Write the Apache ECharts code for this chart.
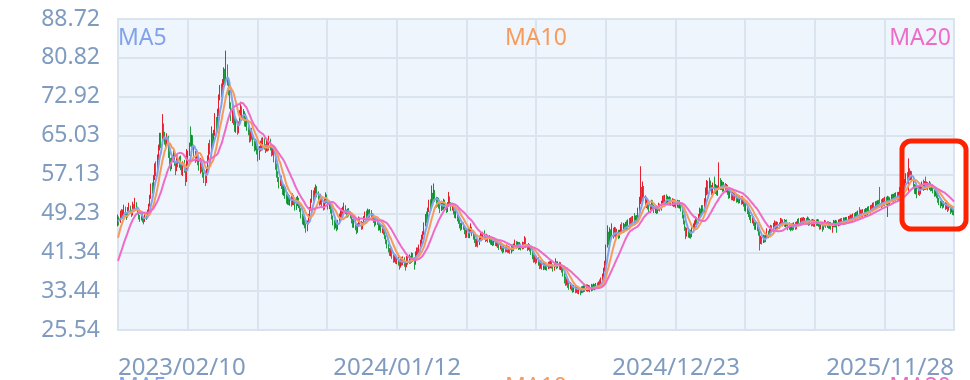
<!DOCTYPE html>
<html><head><meta charset="utf-8">
<style>html,body{margin:0;padding:0;background:#fff}#c{width:970px;height:380px}</style>
<script src="https://cdn.jsdelivr.net/npm/echarts@6.0.0/dist/echarts.min.js"></script>
</head><body><div id="c"></div>
<script>
// ---------- data ----------
const firstDate = '2023-02-10';
const lastDate = '2025-11-28';
const marketHolidays = [
 '2023-04-05','2023-05-01','2023-05-02','2023-05-03','2023-06-22','2023-06-23','2023-09-29','2023-10-02','2023-10-03','2023-10-04','2023-10-05','2023-10-06',
 '2024-01-01','2024-02-09','2024-02-12','2024-02-13','2024-02-14','2024-02-15','2024-02-16','2024-04-04','2024-04-05','2024-05-01','2024-05-02','2024-05-03','2024-06-10','2024-09-16','2024-09-17','2024-10-01','2024-10-02','2024-10-03','2024-10-04','2024-10-07',
 '2025-01-01','2025-01-28','2025-01-29','2025-01-30','2025-01-31','2025-02-03','2025-02-04','2025-04-04','2025-05-01','2025-05-02','2025-05-05','2025-06-02','2025-10-01','2025-10-02','2025-10-03','2025-10-06','2025-10-07','2025-10-08'
];
const labelDates = ['2023/02/10','2024/01/12','2024/12/23','2025/11/28'];
const yTickValues = [25.54,33.44,41.34,49.23,57.13,65.03,72.92,80.82,88.72];
const seriesNames = ['MA5','MA10','MA20'];
const maWindows = [5,10,20];
// closes of the 19 sessions before the first shown day (needed for the moving averages)
const warmupCloses = [33.2,33.8,34.5,33.9,34.6,35.1,35.8,35.2,36.4,36.5,37.8,39.5,41.2,42.6,43.9,46.2,47.8,48.5,47.5];
// [open, close, low, high]
const dailyCandles = [
[47.2,48.0,46.6,49.0],[48.0,47.4,46.8,48.6],[47.5,49.2,47.3,49.8],[49.2,48.6,48.1,50.1],[48.5,49.6,48.2,50.0],[49.6,50.3,49.0,51.0],[50.3,49.2,48.8,50.6],[49.0,48.5,47.9,49.5],[48.6,49.8,48.4,50.5],[49.8,50.6,49.5,51.4],
[50.5,49.7,49.2,50.8],[49.6,48.9,48.5,49.9],[49.0,50.8,48.8,51.6],[50.7,49.9,49.5,51.1],[49.8,51.2,49.6,52.4],[51.2,50.4,49.9,51.5],[50.3,49.5,49.0,50.6],[49.4,48.6,48.0,49.6],[48.7,48.0,47.5,48.9],[48.1,49.0,47.8,49.4],
[49.0,48.2,47.4,49.3],[48.1,47.6,47.0,48.4],[47.7,48.8,47.5,49.2],[48.9,48.3,47.9,49.5],[48.4,49.5,48.2,50.0],[49.6,50.8,49.3,51.2],[50.9,52.4,50.6,53.0],[52.5,54.6,52.2,55.3],[54.7,53.8,53.2,55.5],[53.7,56.2,53.5,57.0],
[56.3,58.5,56.0,59.4],[58.6,57.4,56.8,59.8],[58.2,60.5,57.9,61.2],[60.6,62.4,60.0,63.2],[62.5,64.8,62.0,65.6],[64.9,63.1,62.5,65.6],[63.2,66.5,63.0,69.4],[66.6,65.2,64.5,67.5],[65.0,64.0,63.2,65.8],[64.1,63.0,62.4,64.6],
[63.1,64.8,62.8,65.5],[64.7,61.2,60.5,65.0],[61.3,59.8,59.0,62.0],[59.9,58.6,57.8,60.5],[58.7,59.9,58.2,60.6],[60.0,61.5,59.6,62.3],[61.6,59.4,58.9,62.0],[59.3,58.2,57.0,59.8],[58.3,60.3,57.8,60.9],[60.4,59.1,58.6,61.0],
[59.0,60.2,58.5,60.8],[60.3,58.8,58.0,61.0],[58.7,57.6,57.0,59.4],[57.5,59.3,56.8,59.8],[59.4,58.0,57.5,60.1],[57.9,55.9,54.8,58.4],[56.0,58.9,55.6,62.3],[59.0,61.2,58.7,62.0],[61.3,62.8,60.9,63.6],[65.8,63.2,62.8,66.9],
[63.1,64.5,62.6,65.2],[64.6,62.9,62.2,65.1],[62.8,61.0,60.4,63.2],[61.1,60.0,59.5,61.9],[60.1,61.4,59.8,62.0],[61.3,59.6,59.0,61.8],[59.7,58.5,57.9,60.2],[58.6,59.8,57.3,60.5],[59.7,58.3,57.6,60.1],[58.4,57.1,56.5,58.9],
[57.0,56.2,55.4,57.6],[57.6,55.6,54.8,57.9],[55.7,57.8,55.4,58.4],[57.9,60.4,57.6,61.0],[60.5,62.9,60.1,63.5],[63.0,61.8,61.2,64.2],[61.9,64.8,61.5,66.9],[64.9,63.2,62.6,65.5],[63.3,65.4,62.9,66.2],[65.5,67.8,65.0,69.6],
[67.9,66.0,65.2,68.8],[66.1,69.2,65.8,70.5],[69.3,72.6,69.0,73.4],[72.7,74.5,72.2,75.3],[74.6,73.4,72.8,75.6],[73.3,75.8,73.0,76.5],[75.9,77.8,75.2,78.9],[77.9,76.2,75.5,78.6],[76.1,78.6,75.8,82.3],[78.7,75.8,75.2,79.5],
[75.7,74.1,73.2,76.2],[74.0,71.2,70.5,74.3],[71.3,68.8,68.0,71.8],[68.9,70.2,67.6,71.0],[70.1,68.0,67.2,70.6],[68.1,66.5,65.8,68.9],[66.4,67.8,65.6,68.3],[67.7,65.9,65.2,68.1],[66.0,67.2,65.5,67.9],[67.3,69.5,67.0,70.2],
[69.6,70.8,69.1,71.9],[70.7,68.6,68.0,71.0],[68.5,69.8,68.1,70.4],[69.7,67.4,66.9,70.0],[67.5,68.3,66.8,69.5],[68.2,66.9,66.0,68.7],[66.8,65.7,65.1,67.2],[65.8,64.3,63.6,66.3],[64.2,65.9,63.8,66.4],[66.0,64.8,64.2,66.6],
[64.9,63.5,62.9,65.3],[63.4,62.5,61.8,64.0],[62.6,63.8,62.0,64.4],[63.7,61.9,61.2,64.1],[62.0,60.6,59.8,62.4],[60.5,62.2,60.1,62.9],[62.3,63.4,61.8,64.0],[63.5,62.7,62.0,64.6],[62.6,63.9,62.3,64.7],[64.0,62.8,62.2,64.5],
[62.7,62.0,61.5,63.3],[62.1,63.5,61.8,64.2],[63.4,62.4,61.8,63.9],[62.5,63.8,62.0,65.0],[63.9,62.6,62.0,64.4],[62.5,61.5,60.8,63.0],[61.6,62.3,61.0,62.9],[62.2,60.4,59.6,62.5],[60.3,59.0,58.1,60.7],[59.1,57.2,56.5,59.4],
[57.3,56.1,55.6,57.8],[56.0,55.2,54.3,56.6],[55.3,56.5,54.8,57.0],[56.4,54.8,54.2,56.9],[54.9,53.6,53.0,55.4],[53.5,54.3,52.8,55.1],[54.4,52.9,52.2,54.8],[53.0,51.8,51.2,53.4],[51.7,52.8,51.0,53.5],[52.9,51.5,50.9,53.2],
[51.4,52.3,50.8,52.9],[52.4,51.2,50.6,52.8],[51.1,52.5,50.9,53.3],[52.6,51.6,50.9,53.0],[51.5,50.4,49.8,51.9],[51.3,51.0,49.9,52.6],[51.1,52.2,50.7,52.8],[52.1,50.9,50.3,52.4],[50.8,50.1,49.5,51.2],[50.0,48.8,48.2,50.3],
[48.9,47.6,47.0,49.2],[47.5,48.2,46.8,48.7],[48.3,46.9,46.2,48.6],[46.8,45.8,45.3,47.2],[45.9,47.2,45.6,47.8],[47.3,48.5,47.0,49.1],[48.6,50.0,48.3,50.5],[50.1,51.6,49.8,52.2],[51.7,53.1,51.4,54.0],[53.2,52.3,51.8,53.9],
[52.2,53.6,51.9,54.5],[53.7,54.4,53.2,55.1],[54.3,53.0,52.5,54.8],[53.1,52.4,51.8,53.7],[52.3,51.5,50.8,52.8],[51.6,52.6,51.0,53.2],[52.5,51.2,50.5,52.8],[51.3,50.5,49.8,51.6],[50.4,51.6,50.0,52.3],[51.7,52.8,51.2,53.5],
[52.7,51.9,51.3,53.1],[51.8,50.6,50.0,52.1],[50.7,51.2,50.1,51.8],[51.1,49.8,49.2,51.4],[49.9,48.6,48.0,50.2],[48.5,47.5,46.8,48.8],[47.6,46.6,45.9,47.9],[46.7,47.3,46.2,47.8],[47.2,46.2,45.6,47.6],[46.3,47.4,45.9,47.9],
[47.5,48.6,47.1,49.2],[48.7,49.5,48.2,50.1],[49.4,48.9,48.3,50.3],[48.8,49.8,48.5,50.6],[49.9,50.6,49.4,51.4],[50.5,49.6,49.1,50.9],[49.7,48.9,48.3,50.0],[48.8,49.7,48.4,50.2],[49.8,49.2,48.6,50.3],[49.1,48.7,48.2,49.6],
[48.6,47.8,47.2,48.9],[47.9,46.9,46.3,48.1],[46.8,47.6,46.3,48.2],[47.7,46.4,45.8,47.9],[46.3,45.6,45.0,46.8],[45.7,46.8,45.3,47.2],[46.9,47.9,46.5,48.6],[48.0,47.2,46.6,48.4],[47.3,46.5,45.9,47.7],[46.4,47.0,46.0,47.5],
[47.1,48.2,46.8,48.7],[48.3,49.0,47.9,49.6],[49.1,48.4,47.9,49.8],[48.3,49.5,48.0,50.2],[49.6,48.8,48.2,50.0],[48.7,49.6,48.4,50.1],[49.7,48.5,48.0,49.9],[48.4,48.9,47.9,49.3],[48.8,47.9,47.3,49.0],[47.8,47.1,46.5,48.2],
[47.2,48.0,46.8,48.4],[47.9,47.4,46.9,48.1],[47.3,46.3,45.7,47.6],[46.2,46.9,45.8,47.3],[46.8,45.9,45.3,47.1],[45.8,46.4,45.2,46.9],[46.3,45.5,44.9,46.7],[45.4,44.6,44.0,45.7],[44.5,43.6,43.0,44.8],[43.5,42.8,42.1,43.9],
[42.7,42.0,41.3,43.0],[41.9,41.3,40.6,42.2],[41.2,41.8,40.5,42.3],[41.7,40.6,40.0,42.0],[40.5,39.9,39.2,40.8],[39.8,40.5,39.3,41.0],[40.6,39.6,39.0,40.9],[39.5,40.2,38.9,40.6],[40.1,39.3,38.6,40.4],[39.2,38.6,37.8,39.5],
[38.7,39.8,38.2,40.3],[39.9,39.2,38.6,40.4],[39.1,40.0,38.7,40.5],[40.1,39.0,38.4,40.3],[38.9,38.5,37.6,39.4],[38.6,40.1,38.3,40.6],[40.0,39.3,38.8,40.5],[39.4,40.4,39.0,40.9],[40.3,39.6,39.0,40.6],[39.7,40.8,39.2,41.3],
[40.9,40.1,39.4,41.2],[40.0,39.0,37.8,40.3],[39.1,41.0,38.8,41.5],[41.1,41.8,40.6,42.3],[41.9,41.5,40.9,42.3],[41.6,42.4,41.2,42.9],[42.5,43.3,42.1,43.9],[43.4,44.2,43.0,44.9],[44.3,45.0,43.9,45.6],[45.1,46.8,44.8,47.4],
[46.9,48.5,46.6,49.1],[48.6,47.9,47.2,49.6],[47.8,49.8,47.5,50.4],[49.9,51.3,49.5,52.0],[51.4,50.5,49.8,52.1],[50.6,52.6,50.3,54.9],[52.7,51.8,51.0,53.4],[51.7,53.4,51.5,55.3],[53.5,52.2,51.6,54.0],[52.1,51.0,50.4,52.6],
[51.1,52.0,50.6,52.5],[52.1,50.8,50.2,52.4],[50.7,49.9,49.3,51.2],[50.0,51.2,49.7,51.8],[51.3,50.4,49.9,51.7],[50.5,51.6,50.0,52.2],[51.7,50.9,50.3,52.0],[50.8,49.8,49.3,51.1],[49.9,50.9,49.5,51.5],[51.0,52.0,50.6,53.6],
[52.1,51.2,50.7,52.7],[51.1,50.2,49.7,51.5],[50.3,50.7,49.8,51.3],[50.6,49.6,49.0,50.9],[49.5,48.9,48.3,49.8],[48.8,49.4,48.2,49.9],[49.3,48.2,47.6,49.5],[48.1,47.8,47.1,48.6],[47.7,47.0,46.2,48.0],[46.9,46.4,45.7,47.3],
[46.3,47.2,45.9,47.7],[47.1,46.5,45.9,47.4],[46.4,45.8,45.0,46.7],[45.7,44.9,44.2,46.0],[44.8,45.5,44.3,46.1],[45.6,44.8,44.2,46.3],[44.7,45.7,44.2,46.2],[45.8,46.3,45.4,47.2],[46.2,45.2,44.6,46.5],[45.1,44.6,43.9,45.5],
[44.5,43.9,43.2,44.8],[43.8,43.1,42.4,44.1],[43.2,43.8,42.5,44.3],[43.7,43.0,42.3,44.1],[43.1,44.2,42.8,44.7],[44.3,44.9,43.8,45.4],[44.8,44.1,43.6,45.2],[44.2,45.0,43.8,45.5],[45.1,44.5,43.9,45.8],[44.4,44.0,43.4,44.7],
[44.1,44.6,43.6,45.1],[44.5,43.8,43.3,44.9],[43.9,44.4,43.3,44.8],[44.3,43.5,42.9,44.6],[43.4,43.9,42.8,44.3],[44.0,43.2,42.6,44.2],[43.1,43.7,42.7,44.2],[43.8,43.1,42.6,44.1],[43.0,43.6,42.5,44.0],[43.5,42.8,42.2,43.8],
[42.9,42.3,41.8,43.2],[42.2,42.9,41.9,43.3],[42.8,42.1,41.5,43.0],[42.2,41.7,41.1,42.5],[41.8,42.4,41.3,42.8],[42.3,41.9,41.3,42.7],[41.8,42.3,41.4,42.9],[42.4,41.8,41.2,42.7],[41.7,42.2,41.2,42.6],[42.3,41.6,41.0,42.5],
[41.5,42.4,41.1,42.9],[42.5,42.0,41.5,42.9],[41.9,42.6,41.6,43.1],[42.7,43.3,42.3,43.9],[43.2,42.5,42.0,43.6],[42.6,43.1,42.2,43.5],[43.2,42.4,41.8,43.4],[42.3,42.9,41.9,43.4],[42.8,42.2,41.7,43.1],[42.3,43.0,41.9,43.5],
[43.1,42.6,42.0,43.4],[42.5,43.4,42.2,44.6],[43.5,42.8,42.2,44.3],[42.7,42.2,41.6,43.0],[42.1,42.7,41.8,43.2],[42.8,42.1,41.5,43.0],[42.0,41.4,40.8,42.3],[41.3,40.6,39.9,41.6],[40.5,39.8,39.2,40.9],[39.9,40.4,39.3,40.8],
[40.3,39.6,38.9,40.6],[39.7,40.1,39.2,40.6],[40.0,39.2,38.6,40.3],[39.1,38.5,37.9,39.4],[38.6,39.2,38.0,39.7],[39.1,38.4,37.8,39.5],[38.3,38.9,37.7,39.4],[39.0,38.3,37.8,39.3],[38.2,38.8,37.7,39.2],[38.9,38.2,37.6,39.1],
[38.3,39.0,37.9,39.4],[39.1,38.5,38.0,39.5],[38.4,39.1,38.1,39.6],[39.2,38.6,38.0,39.6],[38.5,38.0,37.4,38.9],[38.1,38.7,37.6,39.1],[38.8,39.3,38.3,40.1],[39.2,38.5,37.9,39.5],[38.6,39.0,38.1,39.5],[39.1,38.4,37.8,39.4],
[38.3,38.8,37.7,39.3],[38.7,37.9,37.2,38.9],[37.8,37.1,36.4,38.1],[37.0,36.0,35.0,37.3],[36.1,35.3,34.5,36.4],[35.2,35.6,34.6,36.0],[35.5,34.8,34.1,35.8],[34.9,34.3,33.7,35.2],[34.2,34.9,33.8,35.3],[34.8,34.1,33.5,35.0],
[34.2,33.7,33.1,34.6],[33.6,34.3,33.2,34.7],[34.2,33.6,33.0,34.5],[33.7,34.2,33.1,34.6],[34.1,33.5,32.9,34.3],[33.4,33.9,32.8,34.3],[33.8,33.3,32.6,34.0],[33.4,34.0,33.0,34.4],[34.1,33.6,33.1,34.5],[33.5,34.2,33.2,34.6],
[34.3,33.8,33.3,34.7],[33.7,34.4,33.4,34.8],[34.5,33.9,33.3,34.8],[33.8,34.3,33.4,34.7],[34.2,33.7,33.2,34.6],[33.8,34.4,33.4,34.9],[34.3,34.0,33.5,34.8],[34.1,34.6,33.7,35.0],[34.5,34.1,33.6,34.9],[34.2,34.7,33.8,35.1],
[34.8,34.3,33.9,35.2],[34.4,35.0,34.0,35.4],[35.1,34.6,34.1,35.8],[34.7,35.6,34.4,36.2],[35.7,36.4,35.3,37.0],[36.5,37.6,36.1,38.2],[37.7,38.9,37.4,39.6],[38.9,42.5,38.6,42.9],[42.6,44.6,42.3,46.8],[44.7,43.6,42.8,45.5],
[43.5,45.2,43.1,46.4],[45.3,44.4,43.6,46.0],[44.3,45.6,44.0,47.2],[45.7,44.8,44.1,46.3],[44.9,45.9,44.5,46.5],[46.0,44.9,44.3,46.4],[44.8,45.5,44.2,46.1],[45.4,44.6,44.0,45.9],[44.7,45.3,44.2,45.9],[45.4,46.4,45.0,47.0],
[46.5,45.8,45.2,47.4],[45.7,46.7,45.3,47.3],[46.8,46.0,45.4,47.1],[46.1,46.9,45.6,47.5],[47.0,46.3,45.7,47.8],[46.2,47.3,45.9,48.0],[47.4,46.6,46.0,48.3],[46.7,47.8,46.3,48.4],[47.9,47.1,46.5,48.6],[47.0,48.0,46.7,48.7],
[48.1,47.3,46.8,49.3],[47.4,48.1,46.9,48.8],[48.2,47.7,47.1,48.9],[47.8,49.6,47.5,50.4],[49.7,51.4,49.3,52.6],[51.5,53.0,51.1,58.8],[53.1,52.2,51.5,54.6],[52.1,53.6,51.8,55.7],[53.7,52.4,51.8,54.8],[52.3,51.2,50.6,52.9],
[51.1,51.9,50.3,52.6],[52.0,50.6,50.0,52.3],[50.5,49.8,49.2,51.0],[49.9,50.5,49.3,51.1],[50.6,51.4,50.1,52.0],[51.5,50.7,50.1,51.9],[50.6,49.9,49.3,51.0],[49.8,50.4,49.3,50.9],[50.5,49.6,49.1,50.9],[49.7,50.2,49.2,50.7],
[50.3,50.8,49.8,51.4],[50.9,50.1,49.6,51.2],[50.0,51.3,49.8,51.8],[51.4,52.1,51.0,52.8],[52.2,51.6,51.0,52.9],[51.5,52.4,51.2,53.0],[52.5,51.8,51.3,53.1],[51.7,52.2,51.2,52.8],[52.3,51.5,51.0,52.6],[51.4,52.1,51.0,52.7],
[52.2,51.3,50.8,52.5],[51.2,51.8,50.7,52.3],[51.9,51.1,50.5,52.2],[51.0,51.6,50.6,52.1],[51.7,50.9,50.3,52.0],[50.8,51.5,50.4,52.0],[51.6,50.8,50.3,51.9],[50.7,51.4,50.2,51.9],[51.3,50.2,49.6,51.5],[50.1,48.9,48.2,50.3],
[48.8,47.6,47.0,49.0],[47.5,46.4,45.7,47.8],[46.3,45.1,44.0,46.5],[45.0,45.8,44.5,46.3],[45.9,44.9,44.3,46.2],[44.8,45.6,44.2,46.0],[45.5,44.7,44.1,45.9],[44.8,45.9,44.4,46.4],[45.8,46.6,45.4,47.2],[46.7,47.2,46.3,47.8],
[47.3,48.1,46.9,48.6],[48.0,47.5,46.9,48.5],[47.6,48.6,47.2,49.1],[48.7,49.8,48.3,50.4],[49.9,49.1,48.5,50.2],[49.0,50.3,48.7,50.9],[50.4,49.6,49.0,50.9],[49.7,51.5,49.4,52.3],[51.6,53.2,51.2,54.5],[53.3,54.6,52.9,56.0],
[54.7,53.9,53.1,55.8],[53.8,55.2,53.4,56.5],[55.3,54.5,53.8,55.9],[54.4,53.6,53.0,55.0],[53.5,54.8,53.2,55.5],[54.9,53.9,53.3,56.7],[53.8,54.4,53.2,55.2],[54.5,53.5,52.9,55.0],[53.4,54.2,52.8,54.9],[54.3,55.6,54.0,59.6],
[55.7,54.6,54.0,56.4],[54.5,55.3,54.0,56.0],[55.4,54.2,53.6,55.7],[54.1,55.0,53.7,55.6],[55.1,54.1,53.5,55.4],[54.0,54.7,53.5,55.2],[54.8,53.6,53.0,55.0],[53.5,52.8,52.2,53.9],[52.9,53.5,52.3,54.0],[53.4,52.5,51.9,53.7],
[52.4,53.1,51.9,53.6],[53.2,52.3,51.7,53.5],[52.2,52.8,51.8,53.3],[52.9,51.9,51.4,53.2],[51.8,52.6,51.5,53.1],[52.7,51.8,51.2,53.0],[51.9,52.5,51.3,52.9],[52.4,51.6,51.0,52.8],[51.5,52.2,51.1,52.7],[52.1,51.2,50.6,52.4],
[51.1,50.3,49.7,51.4],[50.2,50.9,49.6,51.3],[50.8,49.7,49.1,51.0],[49.6,49.2,48.5,50.0],[49.1,48.6,47.9,49.5],[48.5,48.0,47.3,48.9],[47.9,48.4,47.2,48.8],[48.3,47.3,46.7,48.6],[47.2,46.6,45.9,47.5],[46.5,47.1,45.9,47.5],
[47.0,46.3,45.6,47.3],[46.2,45.4,44.7,46.5],[45.3,43.6,41.7,45.6],[43.5,44.2,43.0,44.7],[44.1,43.5,42.9,44.5],[43.6,44.4,43.2,44.9],[44.5,43.9,43.3,44.8],[43.8,44.6,43.4,45.1],[44.7,45.4,44.2,46.2],[45.3,44.8,44.2,45.7],
[44.9,45.6,44.5,46.1],[45.7,46.4,45.3,46.9],[46.5,45.9,45.4,46.8],[45.8,46.6,45.5,47.3],[46.7,47.3,46.3,47.8],[47.2,46.5,45.9,47.6],[46.4,47.1,46.0,47.6],[47.2,46.6,46.0,47.5],[46.5,47.0,46.1,47.4],[47.1,47.8,46.7,48.3],
[47.9,47.2,46.7,48.2],[47.1,47.6,46.6,48.0],[47.7,47.0,46.5,48.1],[46.9,47.5,46.4,47.9],[47.6,47.1,46.6,48.0],[47.0,46.4,45.8,47.3],[46.3,46.9,45.9,47.4],[47.0,46.2,45.6,47.2],[46.1,46.8,45.8,47.2],[46.9,46.3,45.7,47.3],
[46.2,46.9,45.9,47.4],[47.0,46.5,45.9,47.5],[46.4,46.9,46.0,47.6],[47.0,47.6,46.6,48.1],[47.7,47.1,46.6,48.3],[47.0,47.8,46.7,48.3],[47.9,47.3,46.8,48.4],[47.2,47.9,46.9,48.4],[48.0,47.4,46.9,48.5],[47.3,47.8,46.9,48.3],
[47.9,47.5,46.9,48.3],[47.4,48.0,47.0,48.6],[48.1,47.3,46.7,48.4],[47.2,47.7,46.8,48.1],[47.8,47.2,46.6,48.0],[47.1,47.6,46.7,48.1],[47.7,47.0,46.5,48.0],[46.9,47.5,46.5,47.9],[47.6,47.2,46.7,48.0],[47.1,47.6,46.7,48.1],
[47.7,47.0,46.5,48.0],[46.9,46.5,45.9,47.2],[46.4,47.1,46.0,47.5],[47.2,46.3,45.5,47.5],[46.2,46.9,45.9,47.3],[47.0,47.4,46.6,47.9],[47.5,46.8,46.3,47.8],[46.7,47.2,46.3,47.6],[47.3,46.6,46.1,47.6],[46.5,47.1,46.1,47.5],
[47.2,46.5,45.9,47.5],[46.4,46.9,45.3,47.3],[46.8,47.4,46.4,47.9],[47.5,46.9,46.4,47.8],[46.8,47.5,46.4,47.9],[47.6,47.0,45.3,47.8],[46.9,47.6,46.6,48.0],[47.7,47.2,46.7,48.1],[47.1,47.8,46.8,48.2],[47.9,47.4,46.9,48.3],
[47.3,47.9,46.9,48.4],[48.0,47.5,47.0,48.4],[47.4,48.0,47.0,48.5],[48.1,47.6,47.1,48.5],[47.5,48.2,47.2,48.7],[48.3,47.8,47.3,48.8],[47.7,48.5,47.4,49.0],[48.6,48.0,47.5,49.0],[47.9,48.7,47.6,49.2],[48.8,48.3,47.8,49.3],
[48.2,49.0,47.9,49.5],[49.1,48.6,48.1,49.6],[48.5,49.3,48.2,49.8],[49.4,48.8,48.3,50.5],[48.7,49.5,48.4,50.0],[49.6,48.9,48.4,50.0],[48.8,49.6,48.5,50.1],[49.7,49.1,48.6,50.1],[49.0,49.8,48.7,50.3],[49.9,49.3,48.8,50.3],
[49.2,50.1,48.9,50.6],[50.2,49.6,49.1,50.7],[49.5,50.4,49.2,50.9],[50.5,50.0,49.5,51.0],[49.9,50.9,49.6,51.4],[51.0,50.4,49.9,51.5],[50.3,51.2,50.0,51.7],[51.3,50.6,50.1,51.8],[50.5,51.4,50.2,51.9],[51.5,50.8,50.3,52.0],
[52.4,51.6,50.4,54.6],[51.7,51.0,50.3,52.1],[50.9,51.8,50.6,52.3],[51.9,51.2,50.7,52.4],[51.1,52.0,50.8,52.6],[52.1,51.4,50.9,52.6],[51.3,52.2,48.5,52.8],[52.3,51.5,51.0,52.7],[51.4,52.0,50.9,52.5],[52.1,52.6,51.6,53.1],
[52.7,52.1,51.5,53.2],[52.0,52.7,51.6,53.2],[52.8,52.2,51.7,53.4],[52.1,52.9,51.8,53.5],[53.0,52.3,51.8,53.6],[52.2,53.0,51.9,53.6],[53.1,53.8,52.7,54.6],[53.9,54.5,53.4,55.1],[54.6,53.9,53.3,55.0],[53.8,54.8,53.5,55.4],
[54.9,55.6,54.4,56.2],[55.7,56.8,55.3,57.4],[56.9,56.1,55.5,57.6],[54.2,57.9,53.8,60.4],[58.0,56.6,55.9,58.4],[56.5,57.3,56.0,57.9],[57.4,56.2,55.6,57.8],[56.1,55.0,54.4,56.4],[54.9,53.8,53.2,55.2],[53.7,54.5,53.1,55.0],
[54.6,53.6,52.3,54.9],[53.5,54.2,53.0,54.7],[54.3,53.5,52.8,54.8],[53.4,54.4,53.1,55.0],[54.5,55.1,54.0,55.7],[55.2,54.4,53.8,56.1],[54.3,55.3,54.0,55.8],[55.4,54.6,54.0,56.7],[54.5,55.2,54.1,55.7],[55.3,54.5,53.9,55.6],
[54.4,55.1,54.0,55.8],[55.2,54.3,53.7,55.5],[54.2,54.8,53.8,55.2],[54.9,53.9,53.3,55.1],[53.8,53.2,52.6,54.1],[53.1,53.7,52.7,54.2],[53.8,52.9,52.3,54.0],[52.8,52.1,51.4,53.1],[52.0,51.6,50.9,52.4],[51.5,51.0,50.3,51.8],
[51.1,51.6,50.7,52.0],[51.5,50.8,50.2,51.9],[50.9,51.3,50.4,51.7],[51.2,50.5,49.9,51.5],[50.6,51.0,50.1,51.4],[50.9,50.2,49.5,51.2],[50.3,50.7,49.8,51.1],[50.6,49.8,49.1,50.9],[49.9,50.3,49.4,50.7],[50.2,49.6,48.9,50.5],
[49.7,49.3,48.8,50.0]
];

// ---------- styles ----------
const maColors = ['#82a2ea','#f79b5c','#ee6cc8'];
const upColor = '#e3202d';
const downColor = '#1f9d40';
const axisTextColor = '#7f9bc0';
const gridLineColor = '#dae4ee';
const FONT = 'Noto Sans';

// ---------- derived ----------
function tradingDays() {
  const hol = new Set(marketHolidays);
  const out = [];
  let t = Date.parse(firstDate + 'T00:00:00Z');
  const end = Date.parse(lastDate + 'T00:00:00Z');
  while (t <= end) {
    const d = new Date(t);
    const wd = d.getUTCDay();
    const iso = d.toISOString().slice(0, 10);
    if (wd !== 0 && wd !== 6 && !hol.has(iso)) out.push(iso.replace(/-/g, '/'));
    t += 86400000;
  }
  return out;
}
const dates = tradingDays().slice(0, dailyCandles.length);
const allCloses = warmupCloses.concat(dailyCandles.map(c => c[1]));
function movingAverage(n) {
  const res = [];
  for (let i = warmupCloses.length; i < allCloses.length; i++) {
    let s = 0;
    for (let k = i - n + 1; k <= i; k++) s += allCloses[k];
    res.push(+(s / n).toFixed(3));
  }
  return res;
}

const legendPos = [{ left: 113 }, { left: 500 }, { right: 19 }];
const legends = [];
[27, 376].forEach(top => seriesNames.forEach((name, i) => {
  legends.push(Object.assign({
    top, data: [name], icon: 'none', itemWidth: 0, itemHeight: 10, itemGap: 0, padding: 0,
    textStyle: { color: maColors[i], fontSize: 23, fontFamily: FONT }
  }, legendPos[i]));
}));

const chart = echarts.init(document.getElementById('c'), null, { renderer: 'canvas' });
chart.setOption({
  animation: false,
  textStyle: { fontFamily: FONT },
  legend: legends,
  grid: { left: 118, right: 16, top: 19, bottom: 48, show: true, backgroundColor: '#eef5fc', borderColor: gridLineColor, borderWidth: 2 },
  xAxis: [{
    type: 'category', data: dates, boundaryGap: false,
    axisLine: { show: false }, axisTick: { show: false }, splitLine: { show: false },
    axisLabel: {
      interval: (idx, val) => labelDates.indexOf(val) >= 0,
      color: axisTextColor, fontSize: 24, fontFamily: FONT, margin: 26,
      alignMinLabel: 'left', alignMaxLabel: 'right', showMinLabel: true, showMaxLabel: true
    }
  }, {
    type: 'value', min: 0, max: 12, interval: 1, position: 'bottom',
    axisLine: { show: false }, axisTick: { show: false }, axisLabel: { show: false },
    splitLine: { show: true, lineStyle: { color: gridLineColor, width: 2 } }
  }],
  yAxis: [{
    type: 'value', min: yTickValues[0], max: yTickValues[yTickValues.length - 1], scale: true,
    axisLine: { show: false }, axisTick: { show: false }, splitLine: { show: false },
    axisLabel: { customValues: yTickValues, color: axisTextColor, fontSize: 23, fontFamily: FONT, margin: 18 }
  }, {
    type: 'value', min: 0, max: 8, interval: 1, position: 'left',
    axisLine: { show: false }, axisTick: { show: false }, axisLabel: { show: false },
    splitLine: { show: true, lineStyle: { color: gridLineColor, width: 2 } }
  }],
  series: [{
    type: 'candlestick', name: 'K', xAxisIndex: 0, yAxisIndex: 0, data: dailyCandles, large: false,
    itemStyle: { color: upColor, color0: downColor, borderColor: upColor, borderColor0: downColor, borderWidth: 1 }
  }].concat(seriesNames.map((n, i) => ({
    type: 'line', name: n, xAxisIndex: 0, yAxisIndex: 0, data: movingAverage(maWindows[i]),
    smooth: true, showSymbol: false, symbol: 'none', z: 3,
    lineStyle: { width: 2, color: maColors[i] }, itemStyle: { color: maColors[i] }
  }))),
  graphic: [{
    type: 'rect', z: 100, silent: true,
    shape: { x: 902, y: 141, width: 64, height: 88, r: 9 },
    style: { fill: 'none', stroke: '#ff2200', lineWidth: 5 }
  }]
});
</script>
</body></html>
